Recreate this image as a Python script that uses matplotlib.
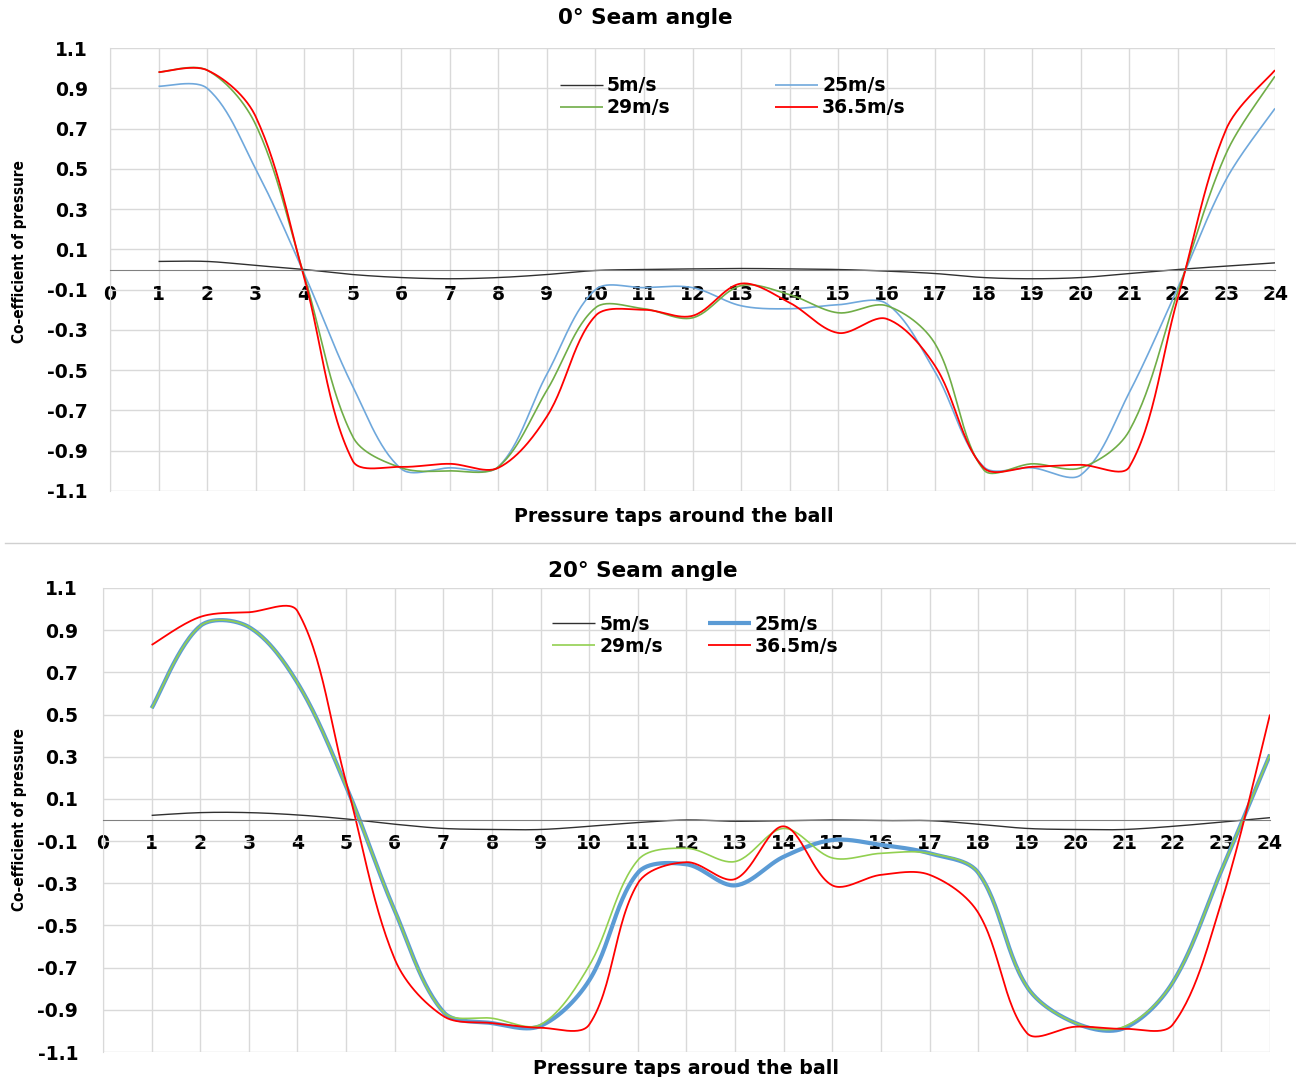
import numpy as np
import matplotlib
matplotlib.use("Agg")
import matplotlib.pyplot as plt
from matplotlib.lines import Line2D

# pressure tap number around the ball
taps = np.arange(1, 25)

# 0 deg seam angle
cp0_5 = [0.04, 0.04, 0.02, 0.0, -0.025, -0.04, -0.046, -0.04, -0.025, -0.005, 0.0, 0.003,
         0.005, 0.003, 0.0, -0.008, -0.02, -0.04, -0.046, -0.04, -0.02, 0.0, 0.017, 0.033]
cp0_25 = [0.91, 0.90, 0.50, -0.02, -0.58, -0.99, -0.985, -0.98, -0.52, -0.10, -0.09, -0.09,
          -0.18, -0.195, -0.175, -0.17, -0.51, -0.98, -0.985, -1.02, -0.61, -0.09, 0.45, 0.80]
cp0_29 = [0.98, 0.99, 0.72, -0.03, -0.83, -0.985, -1.0, -0.98, -0.60, -0.19, -0.195, -0.24,
          -0.08, -0.125, -0.215, -0.18, -0.37, -0.995, -0.965, -0.985, -0.80, -0.11, 0.58, 0.96]
cp0_365 = [0.98, 0.99, 0.76, -0.04, -0.95, -0.98, -0.965, -0.985, -0.73, -0.23, -0.20, -0.23,
           -0.07, -0.165, -0.315, -0.245, -0.48, -0.985, -0.98, -0.97, -0.98, -0.14, 0.70, 0.99]

# 20 deg seam angle
cp20_5 = [0.022, 0.035, 0.035, 0.024, 0.005, -0.02, -0.04, -0.045, -0.045, -0.03, -0.012, 0.0,
          -0.006, -0.003, 0.0, -0.003, -0.003, -0.02, -0.04, -0.045, -0.045, -0.03, -0.01, 0.011]
cp20_25 = [0.53, 0.92, 0.915, 0.65, 0.16, -0.43, -0.91, -0.963, -0.976, -0.76, -0.25, -0.21,
           -0.31, -0.174, -0.095, -0.118, -0.158, -0.25, -0.79, -0.963, -0.987, -0.77, -0.24, 0.31]
cp20_29 = [0.53, 0.92, 0.915, 0.65, 0.16, -0.43, -0.91, -0.94, -0.97, -0.69, -0.19, -0.134,
           -0.197, -0.04, -0.18, -0.158, -0.158, -0.25, -0.79, -0.963, -0.98, -0.77, -0.24, 0.31]
cp20_365 = [0.83, 0.963, 0.985, 0.99, 0.18, -0.66, -0.93, -0.963, -0.985, -0.97, -0.30, -0.20,
            -0.28, -0.03, -0.31, -0.26, -0.26, -0.44, -1.01, -0.98, -0.99, -0.97, -0.39, 0.50]

labels = ["5m/s", "25m/s", "29m/s", "36.5m/s"]
xticks = list(range(0, 25))
yticks = np.round(np.arange(-1.1, 1.11, 0.2), 1)


def smooth(x, y, xs_px=48.5, ys_px=205.0, s=1 / 3, n=30):
    # excel-style smoothed line: bezier with chord-length scaled tangents
    P = np.column_stack([np.asarray(x, float) * xs_px, np.asarray(y, float) * ys_px])
    m = len(P)
    L = np.hypot(*(P[1:] - P[:-1]).T)
    cin = P.copy()
    cout = P.copy()
    for i in range(m):
        if i == 0:
            cout[i] = P[0] + (P[1] - P[0]) * s / 2
        elif i == m - 1:
            cin[i] = P[i] - (P[i] - P[i - 1]) * s / 2
        else:
            d = P[i + 1] - P[i - 1]
            tot = L[i - 1] + L[i]
            cout[i] = P[i] + d * s * L[i] / tot
            cin[i] = P[i] - d * s * L[i - 1] / tot
    t = np.linspace(0, 1, n)[:, None]
    out = []
    for i in range(m - 1):
        p0, c1, c2, p3 = P[i], cout[i], cin[i + 1], P[i + 1]
        b = (1 - t) ** 3 * p0 + 3 * (1 - t) ** 2 * t * c1 + 3 * (1 - t) * t ** 2 * c2 + t ** 3 * p3
        out.append(b)
    out = np.vstack(out)
    return out[:, 0] / xs_px, out[:, 1] / ys_px


plt.rcParams['font.family'] = ['DejaVu Sans']
fig = plt.figure(figsize=(12.96, 10.77), dpi=100)

ax1 = fig.add_axes([110 / 1296, 1 - 491 / 1077, 1165 / 1296, 443 / 1077])
ax2 = fig.add_axes([103 / 1296, 1 - 1052 / 1077, 1167 / 1296, 464 / 1077])

styles_top = [("#303030", 1.0), ("#6fa8dc", 1.2), ("#70ad47", 1.2), ("#ff0000", 1.3)]
styles_bot = [("#303030", 1.0), ("#5b9bd5", 3.0), ("#92d050", 1.2), ("#ff0000", 1.3)]

series_top = [cp0_5, cp0_25, cp0_29, cp0_365]
series_bot = [cp20_5, cp20_25, cp20_29, cp20_365]

for ax, series, styles, xpad, ypad in [(ax1, series_top, styles_top, 11, 16),
                                       (ax2, series_bot, styles_bot, 10, 18)]:
    for vals, (col, lw), lab in zip(series, styles, labels):
        sx, sy = smooth(taps, vals)
        ax.plot(sx, sy, color=col, lw=lw, label=lab, solid_capstyle='butt')
    ax.set_xlim(0, 24)
    ax.set_ylim(-1.1, 1.1)
    ax.set_xticks(xticks)
    ax.set_yticks(yticks)
    ax.set_yticklabels([f"{v:.1f}" for v in yticks])
    ax.grid(True, color="#d9d9d9", lw=1)
    ax.set_axisbelow(True)
    for s in ["top", "right"]:
        ax.spines[s].set_visible(False)
    ax.spines["left"].set_color("#d9d9d9")
    ax.spines["bottom"].set_position(("data", 0))
    ax.spines["bottom"].set_color("#808080")
    ax.tick_params(length=0, labelsize=13.5)
    ax.tick_params(axis="x", pad=xpad)
    ax.tick_params(axis="y", pad=ypad)
    for t in ax.get_xticklabels() + ax.get_yticklabels():
        t.set_fontweight("bold")

ax1.legend([ax1.lines[0], ax1.lines[2], ax1.lines[1], ax1.lines[3]],
           ["5m/s", "29m/s", "25m/s", "36.5m/s"], ncol=2, frameon=False,
           loc="upper left", bbox_to_anchor=(0.386, 0.936), borderaxespad=0, borderpad=0,
           handlelength=2.3, handletextpad=0.2, columnspacing=5.6, labelspacing=0.15,
           prop={"weight": "bold", "size": 13.5})
ax2.legend([ax2.lines[0], ax2.lines[2], ax2.lines[1], ax2.lines[3]],
           ["5m/s", "29m/s", "25m/s", "36.5m/s"], ncol=2, frameon=False,
           loc="upper left", bbox_to_anchor=(0.385, 0.942), borderaxespad=0, borderpad=0,
           handlelength=2.3, handletextpad=0.2, columnspacing=2.4, labelspacing=0.15,
           prop={"weight": "bold", "size": 13.5})

fig.text(645 / 1296, 1 - 18 / 1077, "0° Seam angle", ha="center", va="center",
         fontsize=15.5, fontweight="bold")
fig.text(643 / 1296, 1 - 571 / 1077, "20° Seam angle", ha="center", va="center",
         fontsize=15.5, fontweight="bold")
fig.text(674 / 1296, 1 - 517 / 1077, "Pressure taps around the ball", ha="center", va="center",
         fontsize=13.7, fontweight="bold")
fig.text(686 / 1296, 1 - 1068 / 1077, "Pressure taps aroud the ball", ha="center", va="center",
         fontsize=13.7, fontweight="bold")
fig.text(20 / 1296, 1 - 252 / 1077, "Co-efficient of pressure", rotation=90, ha="center",
         va="center", fontsize=11, fontweight="bold", family="Liberation Sans Narrow",
         fontstretch="condensed")
fig.text(20 / 1296, 1 - 820 / 1077, "Co-efficient of pressure", rotation=90, ha="center",
         va="center", fontsize=11, fontweight="bold", family="Liberation Sans Narrow",
         fontstretch="condensed")

fig.add_artist(Line2D([5 / 1296, 1295 / 1296], [1 - 543 / 1077, 1 - 543 / 1077],
                      color="#d0d0d0", lw=1))

fig.savefig("out.png", dpi=100)
